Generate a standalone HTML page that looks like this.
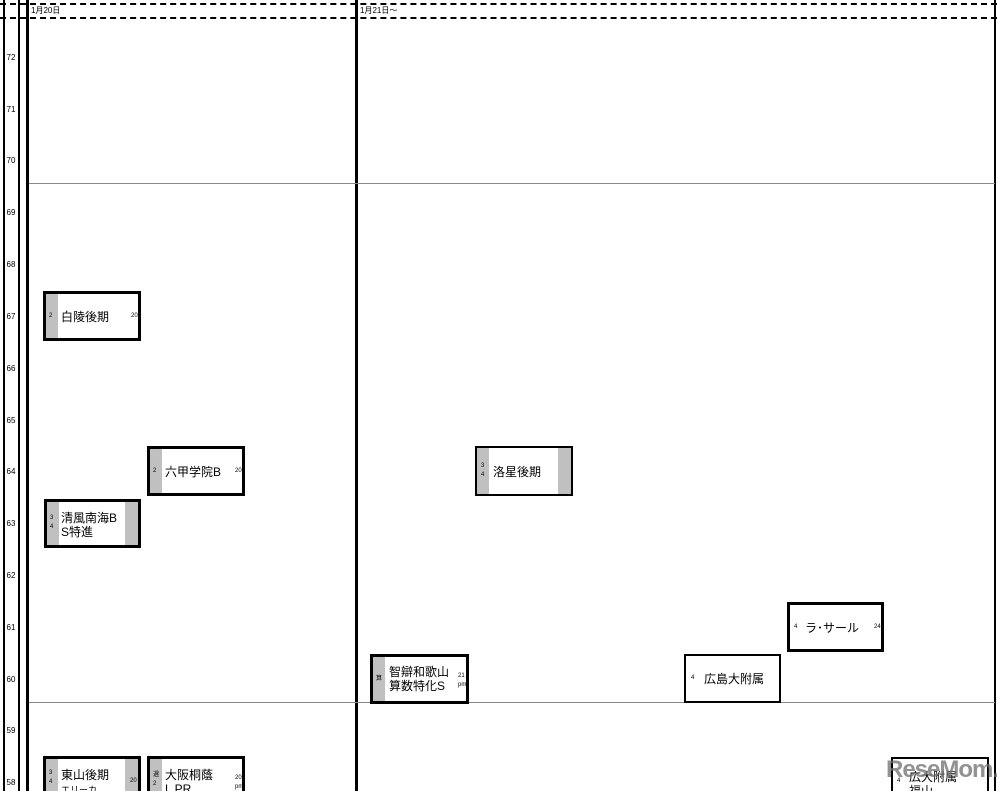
<!DOCTYPE html>
<html><head><meta charset="utf-8"><style>
html,body{margin:0;padding:0;overflow:hidden;}
#w{width:997px;height:791px;overflow:hidden;background:#fff;position:relative;font-family:"Liberation Sans","Noto Sans CJK JP",sans-serif;}
.a{position:absolute;}
.v{position:absolute;background:#000;}
.n{position:absolute;left:5px;font-size:8px;width:12px;text-align:center;}
.b{position:absolute;background:#fff;border:3px solid #000;box-sizing:border-box;overflow:hidden;}
.s{position:absolute;top:0;bottom:0;width:12px;background:#c0c0c0;}
.t{position:absolute;font-size:12px;color:#000;line-height:14px;white-space:nowrap;}
.m{position:absolute;font-size:6px;line-height:9px;}
</style></head><body><div id="w">
<div class="a" style="left:0;top:3px;width:997px;border-top:2px dashed #000"></div>
<div class="a" style="left:0;top:17px;width:997px;border-top:2px dashed #000"></div>
<div class="v" style="left:3px;top:0;width:2px;height:791px"></div>
<div class="v" style="left:18px;top:0;width:2px;height:791px"></div>
<div class="v" style="left:26px;top:0;width:3px;height:791px"></div>
<div class="v" style="left:355px;top:0;width:3px;height:791px"></div>
<div class="v" style="left:994px;top:0;width:2px;height:791px"></div>
<div class="a" style="left:29px;top:183px;width:966px;height:1px;background:#888"></div>
<div class="a" style="left:29px;top:702px;width:966px;height:1px;background:#888"></div>
<div class="a" style="left:31px;top:5px;font-size:8px">1月20日</div>
<div class="a" style="left:360px;top:5px;font-size:8px">1月21日～</div>
<div class="n" style="top:53px">72</div><div class="n" style="top:105px">71</div><div class="n" style="top:156px">70</div>
<div class="n" style="top:208px">69</div><div class="n" style="top:260px">68</div><div class="n" style="top:312px">67</div>
<div class="n" style="top:364px">66</div><div class="n" style="top:416px">65</div><div class="n" style="top:467px">64</div>
<div class="n" style="top:519px">63</div><div class="n" style="top:571px">62</div><div class="n" style="top:623px">61</div>
<div class="n" style="top:675px">60</div><div class="n" style="top:726px">59</div><div class="n" style="top:778px">58</div>

<div class="b" style="left:43px;top:291px;width:98px;height:50px"><div class="s" style="left:0"></div><div class="m" style="left:3px;top:18px">2</div><div class="t" style="left:15px;top:16px">白陵後期</div><div class="m" style="left:85px;top:18px">20</div></div>
<div class="b" style="left:147px;top:446px;width:98px;height:50px"><div class="s" style="left:0"></div><div class="m" style="left:3px;top:18px">2</div><div class="t" style="left:15px;top:16px">六甲学院B</div><div class="m" style="left:85px;top:18px">20</div></div>
<div class="b" style="left:44px;top:499px;width:97px;height:49px"><div class="s" style="left:0"></div><div class="s" style="right:0;width:13px"></div><div class="m" style="left:3px;top:12px">3<br>4</div><div class="t" style="left:14px;top:9px">清風南海B<br>S特進</div></div>
<div class="b" style="left:475px;top:446px;width:98px;height:50px;border-width:2px"><div class="s" style="left:0"></div><div class="s" style="right:0;width:13px"></div><div class="m" style="left:4px;top:14px">3<br>4</div><div class="t" style="left:16px;top:17px">洛星後期</div></div>
<div class="b" style="left:370px;top:654px;width:99px;height:50px"><div class="s" style="left:0"></div><div class="m" style="left:3px;top:18px">算</div><div class="t" style="left:16px;top:8px">智辯和歌山<br>算数特化S</div><div class="m" style="left:85px;top:15px">21<br>pm</div></div>
<div class="b" style="left:684px;top:654px;width:97px;height:49px;border-width:2px"><div class="m" style="left:5px;top:18px">4</div><div class="t" style="left:18px;top:16px">広島大附属</div></div>
<div class="b" style="left:787px;top:602px;width:97px;height:50px"><div class="m" style="left:4px;top:18px">4</div><div class="t" style="left:15px;top:16px">ラ･サール</div><div class="m" style="left:84px;top:18px">24</div></div>
<div class="b" style="left:43px;top:756px;width:98px;height:50px"><div class="s" style="left:0"></div><div class="s" style="right:0;width:13px"></div><div class="m" style="left:3px;top:10px">3<br>4</div><div class="t" style="left:15px;top:9px">東山後期<br><span style="font-size:9px">エリーカ</span></div><div class="m" style="left:84px;top:18px">20</div></div>
<div class="b" style="left:147px;top:756px;width:98px;height:50px"><div class="s" style="left:0"></div><div class="m" style="left:3px;top:12px">選<br>2</div><div class="t" style="left:15px;top:9px">大阪桐蔭<br>L PR</div><div class="m" style="left:85px;top:15px">20<br>pm</div></div>
<div class="b" style="left:891px;top:757px;width:98px;height:50px;border-width:2px"><div class="m" style="left:4px;top:18px">4</div><div class="t" style="left:16px;top:11px">広大附属<br>福山</div></div>
<div class="a" style="left:886px;top:756px;font-size:24px;font-weight:bold;color:rgba(110,110,110,0.75);letter-spacing:-1px">ReseMom.</div>
</div></body></html>
